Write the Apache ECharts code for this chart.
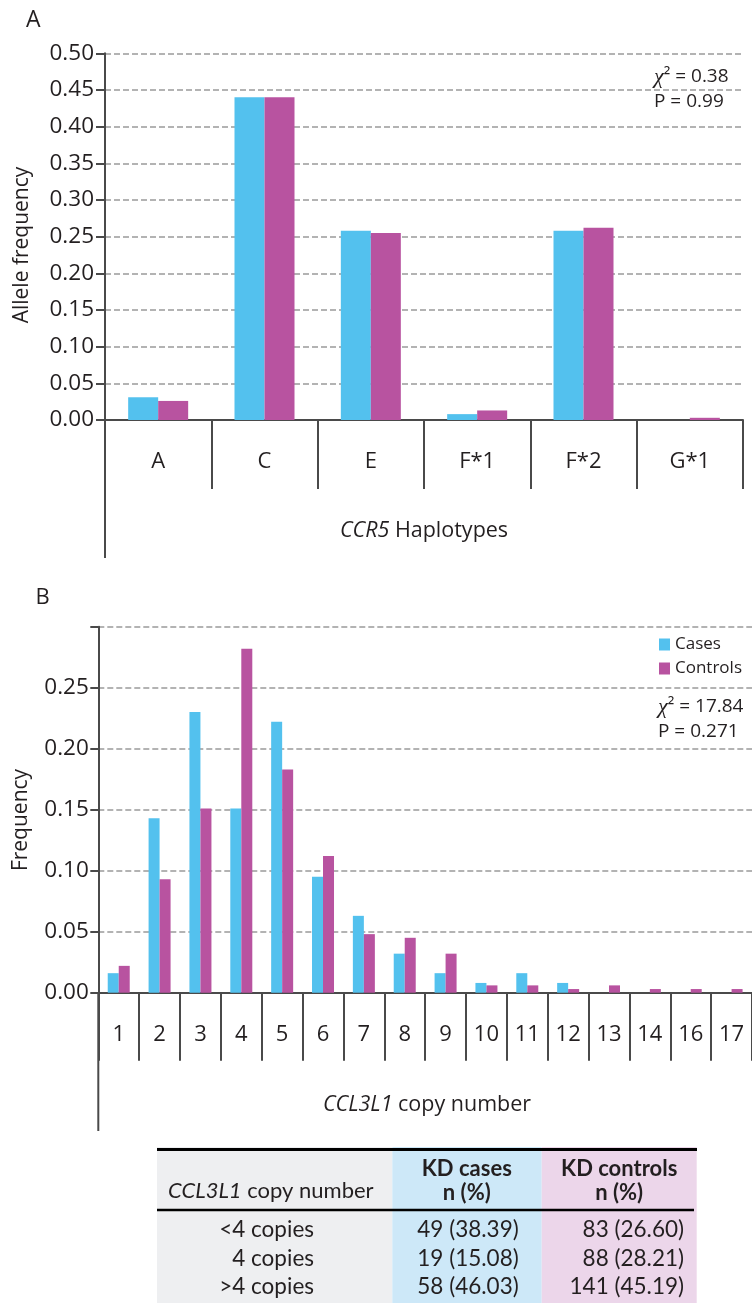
<!DOCTYPE html>
<html>
<head>
<meta charset="utf-8">
<script src="https://cdn.jsdelivr.net/npm/echarts@6/dist/echarts.min.js"></script>
<style>
html,body{margin:0;padding:0;background:#fff;}
#chart{width:752px;height:1303px;}
</style>
</head>
<body>
<div id="chart"></div>
<script>
// ---- Data ----
const haplotypes = ['A', 'C', 'E', 'F*1', 'F*2', 'G*1'];
const haploCases = [0.031, 0.440, 0.258, 0.008, 0.258, 0.000];
const haploControls = [0.026, 0.440, 0.255, 0.013, 0.262, 0.003];
const haploTicks = [0, 0.05, 0.10, 0.15, 0.20, 0.25, 0.30, 0.35, 0.40, 0.45, 0.50];

const copyNumbers = ['1','2','3','4','5','6','7','8','9','10','11','12','13','14','16','17'];
const copyCases = [0.016, 0.143, 0.230, 0.151, 0.222, 0.095, 0.063, 0.032, 0.016, 0.008, 0.016, 0.008, 0.000, 0.000, 0.000, 0.000];
const copyControls = [0.022, 0.093, 0.151, 0.282, 0.183, 0.112, 0.048, 0.045, 0.032, 0.006, 0.006, 0.003, 0.006, 0.003, 0.003, 0.003];

const seriesNames = ['Cases', 'Controls'];
const statsA = ['0.38', '0.99'];
const statsB = ['17.84', '0.271'];

const tableRowLabels = ['<4 copies', '4 copies', '>4 copies'];
const tableCases = ['49 (38.39)', '19 (15.08)', '58 (46.03)'];
const tableControls = ['83 (26.60)', '88 (28.21)', '141 (45.19)'];
const tableHeaders = ['KD cases', 'KD controls'];

// ---- Styles ----
const FONT = 'Open Sans';
const TFONT = 'Lato';
const TXT = '#231f20';
const AX = '#4a4a4a';
const C_CASE = '#53c1ee';
const C_CTRL = '#b853a0';

const chart = echarts.init(document.getElementById('chart'), null, {renderer: 'canvas'});

function yAxisCfg(idx, max, hideTop, margin, tickLen) {
  return {
    type: 'value', gridIndex: idx, min: 0, max: max, interval: 0.05,
    axisLine: {show: true, lineStyle: {color: AX, width: 2}},
    axisTick: {show: true, length: tickLen, lineStyle: {color: AX, width: 2}},
    axisLabel: {
      margin: margin, fontSize: 22.5, fontFamily: FONT, color: TXT,
      formatter: v => (hideTop && v >= max - 1e-9) ? '' : v.toFixed(2)
    },
    splitLine: {show: true, lineStyle: {color: '#9a9a9a', width: 1.5, type: [6, 3]}}
  };
}
function xAxisCfg(idx, data, tickLen) {
  return {
    type: 'category', gridIndex: idx, data: data,
    axisLine: {show: true, lineStyle: {color: AX, width: 2}},
    axisTick: {show: true, length: tickLen, interval: 0, lineStyle: {color: AX, width: 2}},
    axisLabel: {interval: 0, margin: 31, fontSize: 22, fontFamily: FONT, color: TXT},
    splitLine: {show: false}
  };
}

const graphics = [];
// panel letters
graphics.push({type: 'text', x: 26, y: 20, style: {text: 'A', fontSize: 23, fontFamily: FONT, fill: TXT, verticalAlign: 'middle'}});
graphics.push({type: 'text', x: 35.5, y: 598, style: {text: 'B', fontSize: 22, fontFamily: FONT, fill: TXT, verticalAlign: 'middle'}});
// y axis titles
graphics.push({type: 'text', x: 22.5, y: 245, rotation: Math.PI / 2, style: {text: 'Allele frequency', fontSize: 21, fontFamily: FONT, fill: TXT, align: 'center', verticalAlign: 'middle'}});
graphics.push({type: 'text', x: 21.5, y: 820, rotation: Math.PI / 2, style: {text: 'Frequency', fontSize: 21, fontFamily: FONT, fill: TXT, align: 'center', verticalAlign: 'middle'}});
// x axis titles
const richIt = {i: {fontStyle: 'italic', fontSize: 21.5, fontFamily: FONT, fill: TXT}, r: {fontSize: 21.5, fontFamily: FONT, fill: TXT}};
graphics.push({type: 'text', x: 424, y: 531, style: {text: '{i|CCR5}{r| Haplotypes}', rich: richIt, align: 'center', verticalAlign: 'middle'}});
graphics.push({type: 'text', x: 427, y: 1105, style: {text: '{i|CCL3L1}{r| copy number}', rich: richIt, align: 'center', verticalAlign: 'middle'}});
// stats
const richStat = {c: {fontFamily: 'Liberation Serif', fontStyle: 'italic', fontSize: 22, fill: TXT}, r: {fontFamily: FONT, fontSize: 19, fill: TXT}};
graphics.push({type: 'text', x: 654, y: 77, style: {text: '{c|χ}{r|² = ' + statsA[0] + '}', rich: richStat, verticalAlign: 'middle'}});
graphics.push({type: 'text', x: 654, y: 102, style: {text: '{r|P = ' + statsA[1] + '}', rich: richStat, verticalAlign: 'middle'}});
graphics.push({type: 'text', x: 658, y: 707, style: {text: '{c|χ}{r|² = ' + statsB[0] + '}', rich: richStat, verticalAlign: 'middle'}});
graphics.push({type: 'text', x: 658, y: 732, style: {text: '{r|P = ' + statsB[1] + '}', rich: richStat, verticalAlign: 'middle'}});
// y axis extension lines below the category bands
graphics.push({type: 'line', shape: {x1: 105, y1: 420, x2: 105, y2: 558}, style: {stroke: AX, lineWidth: 2}});
graphics.push({type: 'line', shape: {x1: 98.3, y1: 992, x2: 98.3, y2: 1131}, style: {stroke: AX, lineWidth: 2}});

// ---- Table ----
const tTop = 1147, tBot = 1303;
const colX = [157, 392.3, 541.7, 696.7];
graphics.push({type: 'rect', shape: {x: colX[0], y: tTop, width: colX[1] - colX[0], height: tBot - tTop}, style: {fill: '#eeeff1'}});
graphics.push({type: 'rect', shape: {x: colX[1], y: tTop, width: colX[2] - colX[1], height: tBot - tTop}, style: {fill: '#cde8f8'}});
graphics.push({type: 'rect', shape: {x: colX[2], y: tTop, width: colX[3] - colX[2], height: tBot - tTop}, style: {fill: '#ecd6ea'}});
graphics.push({type: 'line', shape: {x1: 157, y1: 1149.5, x2: 697, y2: 1149.5}, style: {stroke: '#000', lineWidth: 3}});
graphics.push({type: 'line', shape: {x1: 157, y1: 1210, x2: 694, y2: 1210}, style: {stroke: '#000', lineWidth: 2.5}});
const richT = {i: {fontStyle: 'italic', fontSize: 22, fontFamily: TFONT, fill: TXT}, r: {fontSize: 22, fontFamily: TFONT, fill: TXT}};
graphics.push({type: 'text', x: 168, y: 1191, style: {text: '{i|CCL3L1}{r| copy number}', rich: richT, verticalAlign: 'middle'}});
const hdrCx = [466.8, 619.2];
tableHeaders.forEach((h, k) => {
  graphics.push({type: 'text', x: hdrCx[k], y: 1169, style: {text: h, fontSize: 22, fontWeight: 'bold', fontFamily: TFONT, fill: TXT, align: 'center', verticalAlign: 'middle'}});
  graphics.push({type: 'text', x: hdrCx[k], y: 1193, style: {text: 'n (%)', fontSize: 22, fontWeight: 'bold', fontFamily: TFONT, fill: TXT, align: 'center', verticalAlign: 'middle'}});
});
const rowY = [1230, 1258.5, 1287];
tableRowLabels.forEach((lab, k) => {
  graphics.push({type: 'text', x: 314, y: rowY[k], style: {text: lab, fontSize: 22.5, fontFamily: TFONT, fill: TXT, align: 'right', verticalAlign: 'middle'}});
  graphics.push({type: 'text', x: 468, y: rowY[k], style: {text: tableCases[k], fontSize: 22.5, fontFamily: TFONT, fill: TXT, align: 'center', verticalAlign: 'middle'}});
  graphics.push({type: 'text', x: 684, y: rowY[k], style: {text: tableControls[k], fontSize: 22.5, fontFamily: TFONT, fill: TXT, align: 'right', verticalAlign: 'middle'}});
});

function barSeries(name, xi, data, color, width) {
  return {
    name: name, type: 'bar', xAxisIndex: xi, yAxisIndex: xi, data: data,
    barWidth: width, barGap: '0%',
    itemStyle: {color: color, borderWidth: 0},
    emphasis: {disabled: true}
  };
}

chart.setOption({
  animation: false,
  backgroundColor: '#ffffff',
  grid: [
    {left: 105, right: 9, top: 53.3, bottom: 1303 - 420, containLabel: false},
    {left: 98.3, right: -6.3, top: 626.7, bottom: 1303 - 992.7, containLabel: false}
  ],
  xAxis: [xAxisCfg(0, haplotypes, 69), xAxisCfg(1, copyNumbers, 68)],
  yAxis: [yAxisCfg(0, 0.5, false, 11, 9), yAxisCfg(1, 0.3, true, 9.5, 8)],
  legend: {
    data: seriesNames, selectedMode: false, orient: 'vertical',
    left: 654, top: 631, icon: 'rect', itemWidth: 11, itemHeight: 12, itemGap: 7,
    textStyle: {fontSize: 17, fontFamily: FONT, color: TXT, padding: [0, 0, 0, 0]}
  },
  series: [
    barSeries(seriesNames[0], 0, haploCases, C_CASE, 30),
    barSeries(seriesNames[1], 0, haploControls, C_CTRL, 30),
    barSeries(seriesNames[0], 1, copyCases, C_CASE, 11),
    barSeries(seriesNames[1], 1, copyControls, C_CTRL, 11)
  ],
  graphic: graphics
});
</script>
</body>
</html>
